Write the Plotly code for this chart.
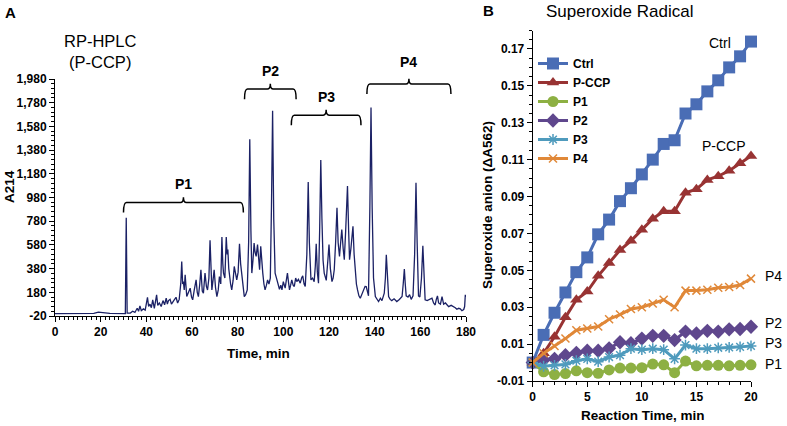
import plotly.graph_objects as go

# ---------------- Panel A: RP-HPLC chromatogram ----------------
hplc_time = [0, 10, 17, 19, 21, 24, 30.8, 31.0, 31.2, 31.4, 31.6, 33, 34, 35, 36, 36.6, 37.2, 37.8, 38.7, 39.5,
             40.5, 41.0, 41.6, 42.2, 42.8, 43.5, 44.0, 44.5, 45.0, 45.7, 46.5, 47.3, 48.0, 48.7, 49.2, 49.7,
             50.4, 51.0, 52.0, 53.0, 53.7, 54.4, 55.1, 55.5, 55.9, 56.2, 56.6, 57.0, 57.7, 58.4, 59.2, 59.8,
             60.3, 61.0, 61.8, 62.3, 62.8, 63.4, 63.9, 64.5, 65.0, 65.7, 66.3, 66.8, 67.4, 67.9, 68.3, 68.7,
             69.2, 69.7, 70.3, 70.9, 71.5, 72.0, 72.6, 73.1, 73.5, 73.8, 74.4, 75.0, 75.4, 75.7, 76.1, 76.4,
             76.9, 77.4, 78.0, 78.5, 79.0, 79.6, 80.2, 80.8, 81.3, 81.8, 82.4, 82.9, 83.5, 84.2, 84.8, 85.3,
             85.8, 86.2, 86.7, 87.2, 87.6, 88.1, 88.7, 89.1, 89.6, 90.1, 90.6, 91.0, 91.5, 92.0, 92.6, 93.1,
             93.7, 94.3, 94.8, 95.3, 95.8, 96.4, 97.0, 97.6, 98.3, 98.9, 99.4, 100.0, 100.8, 101.3, 101.8,
             102.3, 102.7, 103.2, 103.7, 104.3, 104.8, 105.4, 105.9, 106.6, 107.4, 108.0, 108.5, 109.1, 109.6,
             110.3, 110.9, 111.4, 112.1, 112.8, 113.5, 114.0, 114.4, 114.9, 115.4, 115.9, 116.4, 116.9, 117.4,
             117.9, 118.4, 118.8, 119.5, 120.0, 120.6, 121.3, 121.8, 122.3, 122.9, 123.5, 124.0, 124.6, 125.1,
             125.6, 126.2, 126.7, 127.3, 128.1, 128.6, 129.0, 129.6, 130.5, 131.0, 131.5, 132.0, 132.5, 133.1,
             133.7, 134.4, 135.2, 135.8, 136.3, 136.8, 137.3, 137.9, 138.4, 138.9, 139.5, 140.3, 141.0, 141.7,
             142.5, 143.2, 144.2, 144.7, 145.1, 145.6, 146.1, 146.8, 147.5, 148.5, 149.7, 150.8, 152.0, 152.5,
             153.0, 153.4, 153.8, 154.6, 155.3, 156.0, 156.8, 157.5, 158.1, 158.6, 159.2, 159.8, 160.5, 161.1,
             161.6, 162.1, 163.0, 164.0, 165.1, 165.8, 166.5, 167.0, 167.5, 168.0, 168.8, 169.5, 170.2, 171.0,
             172.4, 173.5, 174.6, 175.3, 176.0, 176.8, 177.5, 178.2, 179.0, 179.4, 179.7, 180]
hplc_a214 = [0, 0, 2, 12, 8, 2, 0, 400, 810, 400, 5, 5, 20, 10, 45, 20, 65, 25, 40, 30,
             138, 60, 80, 50, 116, 45, 90, 158, 70, 90, 60, 110, 75, 130, 80, 110,
             121, 80, 110, 138, 90, 120, 257, 440, 250, 271, 200, 328, 144, 180, 215, 140,
             116, 200, 285, 180, 144, 250, 370, 190, 172, 342, 230, 200, 300, 619, 300, 200,
             280, 370, 220, 144, 200, 313, 250, 647, 420, 342, 300, 647, 500, 540, 380, 313,
             250, 200, 280, 398, 330, 285, 350, 590, 420, 313, 200, 144, 160, 200, 600, 1472,
             700, 342, 450, 596, 520, 483, 582, 450, 370, 568, 400, 342, 250, 200, 240, 285,
             250, 300, 900, 1711, 800, 342, 300, 260, 206, 240, 200, 270, 215, 280, 342,
             260, 200, 240, 285, 240, 229, 300, 271, 290, 257, 300, 319, 250, 229,
             500, 1110, 600, 285, 300, 270, 400, 590, 350, 257, 700, 1296, 800, 450,
             342, 300, 280, 450, 582, 380, 270, 300, 370, 600, 893, 600, 483, 600,
             709, 550, 455, 700, 1076, 700, 455, 550, 737, 500, 342, 250, 200, 150,
             130, 160, 200, 230, 229, 180, 150, 900, 1740, 900, 300, 144, 120, 102,
             130, 110, 172, 300, 497, 300, 144, 120, 110, 125, 102, 120, 144, 250,
             376, 250, 150, 140, 160, 120, 150, 500, 1104, 600, 150, 140, 300, 573,
             300, 116, 110, 120, 130, 90, 73, 120, 150, 90, 80, 144, 80, 90,
             59, 70, 59, 50, 37, 45, 40, 25, 35, 60, 158, 140]

hplc_yticks = [-20, 180, 380, 580, 780, 980, 1180, 1380, 1580, 1780, 1980]
hplc_xticks = [0, 20, 40, 60, 80, 100, 120, 140, 160, 180]

frac_names = ["P1", "P2", "P3", "P4"]
frac_start = [30, 83, 103.5, 136.6]
frac_end = [82.5, 105.6, 134, 173.4]
frac_level = [938, 1895, 1675, 1938]
frac_label_y = [1090, 2050, 1830, 2125]

# ---------------- Panel B: superoxide radical ----------------
rt_min = list(range(21))
ctrl = [0, 0.015, 0.027, 0.038, 0.049, 0.057, 0.0695, 0.0775, 0.0875, 0.0945, 0.102,
        0.110, 0.1185, 0.1205, 0.135, 0.140, 0.147, 0.153, 0.160, 0.166, 0.174]
pccp = [0, 0.005, 0.014, 0.0245, 0.034, 0.0385, 0.047, 0.054, 0.061, 0.066, 0.072,
        0.078, 0.082, 0.082, 0.092, 0.094, 0.099, 0.101, 0.104, 0.108, 0.112]
p1 = [0, -0.005, -0.0065, -0.006, -0.0045, -0.0055, -0.0058, -0.004, -0.003, -0.003, -0.0028,
      -0.0008, -0.0012, -0.0055, 0.0008, -0.0018, -0.0015, -0.0015, -0.0018, -0.0015, -0.0012]
p2 = [0, 0.0014, 0.002, 0.004, 0.0053, 0.0064, 0.0064, 0.0077, 0.011, 0.0105, 0.013,
      0.0145, 0.0145, 0.0122, 0.0168, 0.0158, 0.0172, 0.0168, 0.018, 0.0182, 0.0194]
p3 = [0, -0.002, -0.0015, -0.001, 0.001, 0.002, 0.0005, 0.003, 0.004, 0.0075, 0.007,
      0.0075, 0.007, 0.002, 0.0095, 0.0075, 0.0075, 0.008, 0.0082, 0.0085, 0.009]
p4 = [0, 0.005, 0.009, 0.013, 0.0175, 0.0185, 0.0195, 0.0235, 0.026, 0.029, 0.030,
      0.032, 0.034, 0.030, 0.039, 0.039, 0.0395, 0.0405, 0.041, 0.042, 0.0455]

so_names = ["Ctrl", "P-CCP", "P1", "P2", "P3", "P4"]
so_values = [ctrl, pccp, p1, p2, p3, p4]
so_colors = ["#4a6db5", "#983333", "#8db043", "#5f478d", "#4f9bbd", "#e08838"]
so_symbols = ["square", "triangle-up", "circle", "diamond", "asterisk-open", "x-thin-open"]
so_sizes = [12, 11, 11, 11, 9, 8]
end_label_x = [17.2, 17.5, 22.1, 22.1, 22.1, 22.1]
end_label_y = [0.173, 0.1174, -0.0008, 0.0214, 0.0106, 0.0469]

so_yticks = [-0.01, 0.01, 0.03, 0.05, 0.07, 0.09, 0.11, 0.13, 0.15, 0.17]
so_xticks = [0, 5, 10, 15, 20]

FONT = "Liberation Sans, Arial, Helvetica, sans-serif"
W, H = 787, 426


def px(xp):
    return xp / W


def py(yp):
    return (H - yp) / H


# axis geometry (pixel positions of plot areas)
A_XDOM = [px(55), px(466)]
A_YDOM = [py(316), py(79)]
A_YRANGE = [-20, 1980]
B_XDOM = [px(532.7), px(751)]
B_XRANGE = [0, 20]
B_YDOM = [py(381), py(30.5)]
B_YRANGE = [-0.01, 0.18]


def to_paper(v, rng, dom):
    return dom[0] + (v - rng[0]) / (rng[1] - rng[0]) * (dom[1] - dom[0])


fig = go.Figure()
fig.add_trace(go.Scatter(x=hplc_time, y=hplc_a214, mode="lines",
                         line=dict(color="#1b2165", width=1.3),
                         showlegend=False, xaxis="x", yaxis="y"))

for name, vals, col, sym, sz in zip(so_names, so_values, so_colors, so_symbols, so_sizes):
    open_sym = sym.endswith("open")
    fig.add_trace(go.Scatter(
        x=rt_min, y=vals, name=name, mode="lines+markers",
        line=dict(color=col, width=3),
        marker=dict(symbol=sym, size=sz, color=col,
                    line=dict(color=col, width=1.5 if open_sym else 0)),
        xaxis="x2", yaxis="y2", cliponaxis=False))

# brackets for fractions (y converted through axis A scale into paper space)
shapes = []
annotations = []
for nm, a, b, lv, ly in zip(frac_names, frac_start, frac_end, frac_level, frac_label_y):
    m = (a + b) / 2
    yl = to_paper(lv, A_YRANGE, A_YDOM)
    d = yl - to_paper(lv - 85, A_YRANGE, A_YDOM)
    h = to_paper(lv + 45, A_YRANGE, A_YDOM) - yl
    r = 1.3
    path = (f"M {a},{yl - d} Q {a},{yl} {a + r},{yl} L {m - r},{yl} Q {m},{yl} {m},{yl + h} "
            f"Q {m},{yl} {m + r},{yl} L {b - r},{yl} Q {b},{yl} {b},{yl - d}")
    shapes.append(dict(type="path", path=path, xref="x", yref="paper",
                       line=dict(color="black", width=1.5)))
    annotations.append(dict(x=m, y=to_paper(ly, A_YRANGE, A_YDOM), xref="x", yref="paper",
                            text=f"<b>{nm}</b>", xanchor="center", yanchor="middle",
                            showarrow=False, font=dict(size=14, color="black", family=FONT)))

for nm, lx, lyv in zip(so_names, end_label_x, end_label_y):
    annotations.append(dict(x=to_paper(lx, B_XRANGE, B_XDOM), y=to_paper(lyv, B_YRANGE, B_YDOM),
                            xref="paper", yref="paper", text=nm, showarrow=False,
                            xanchor="center", yanchor="middle",
                            font=dict(size=14, color="black", family=FONT)))


def paper_note(x, y, text, size, angle=0):
    return dict(x=px(x), y=py(y), xref="paper", yref="paper", text=text, showarrow=False,
                xanchor="center", yanchor="middle", textangle=angle,
                font=dict(size=size, color="black", family=FONT))


annotations += [
    paper_note(10, 13, "<b>A</b>", 15),
    paper_note(488, 10, "<b>B</b>", 15),
    paper_note(101, 52, "RP-HPLC<br>(P-CCP)", 16.5),
    paper_note(619, 11, "Superoxide Radical", 17),
    paper_note(258, 353, "<b>Time, min</b>", 13.5),
    paper_note(9, 187, "<b>A214</b>", 13.5, -90),
    paper_note(643, 415, "<b>Reaction Time, min</b>", 13.5),
    paper_note(488, 205, "<b>Superoxide anion (ΔA562)</b>", 13.5, -90),
]

axis_common = dict(showgrid=False, zeroline=False, showline=True, linecolor="black", linewidth=1,
                   ticks="outside", ticklen=5, tickcolor="black", tickwidth=1, automargin=False,
                   tickfont=dict(family=FONT, size=12, color="black", weight="bold"))

fig.update_layout(
    template="none",
    width=W, height=H, autosize=False,
    margin=dict(l=0, r=0, t=0, b=0, pad=0),
    paper_bgcolor="white", plot_bgcolor="rgba(0,0,0,0)",
    font=dict(family=FONT, color="black"),
    xaxis=dict(domain=A_XDOM, range=[0, 180], anchor="y",
               tickmode="array", tickvals=hplc_xticks, ticktext=[str(v) for v in hplc_xticks],
               minor=dict(dtick=2, tick0=0, ticks="outside", ticklen=3, tickcolor="black"),
               **axis_common),
    yaxis=dict(domain=A_YDOM, range=A_YRANGE, anchor="x",
               tickmode="array", tickvals=hplc_yticks, ticktext=[f"{v:,}" for v in hplc_yticks],
               minor=dict(dtick=40, tick0=-20, ticks="outside", ticklen=3, tickcolor="black"),
               **axis_common),
    xaxis2=dict(domain=B_XDOM, range=B_XRANGE, anchor="y2",
                tickmode="array", tickvals=so_xticks, ticktext=[str(v) for v in so_xticks],
                minor=dict(dtick=1, tick0=0, ticks="outside", ticklen=3, tickcolor="black"),
                **axis_common),
    yaxis2=dict(domain=B_YDOM, range=B_YRANGE, anchor="x2",
                tickmode="array", tickvals=so_yticks, ticktext=[f"{v:.2f}" for v in so_yticks],
                minor=dict(dtick=0.005, tick0=-0.01, ticks="outside", ticklen=3, tickcolor="black"),
                **axis_common),
    legend=dict(x=px(533), y=py(49), xanchor="left", yanchor="top", bgcolor="rgba(0,0,0,0)",
                borderwidth=0,
                font=dict(family=FONT, size=12, color="black", weight="bold"),
                tracegroupgap=0, itemwidth=30),
    shapes=shapes,
    annotations=annotations,
)

fig.write_html("out.html", config={"displayModeBar": False},
               post_script="document.body.style.margin='0px';document.body.style.overflow='hidden';")
